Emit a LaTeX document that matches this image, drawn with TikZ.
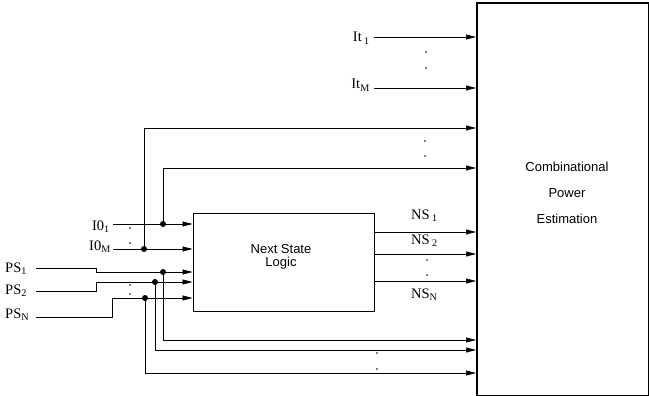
\documentclass[tikz,border=0pt]{standalone}
\usepackage{fontspec}
\setmainfont{Liberation Serif}
\newfontfamily\sansf{Liberation Sans}
\usetikzlibrary{arrows.meta}
\begin{document}
\begin{tikzpicture}[x=1pt,y=-1pt,
  wire/.style={line width=0.6pt},
  arr/.style={wire,-{Triangle[length=10pt,width=5pt]}},
  blk/.style={draw,line width=1.6pt,inner sep=0pt,anchor=north west},
  lbl/.style={font=\fontsize{14.5}{16}\selectfont,inner sep=0pt},
  sanslbl/.style={font=\sansf\fontsize{13}{13.5}\selectfont,align=center,inner sep=0pt},
  jdot/.style={circle,fill,inner sep=0pt,minimum size=6pt},
  sdot/.style={circle,fill,inner sep=0pt,minimum size=1.6pt}]
\useasboundingbox (0,0) rectangle (649,396);

% blocks
\node[blk,minimum width=172pt,minimum height=392pt] (cpe) at (476,2.5) {};
\node[sanslbl,font=\sansf\fontsize{13}{26}\selectfont] (cpetxt) at (567,193) {Combinational\\Power\\Estimation};
\node[blk,minimum width=181pt,minimum height=98pt] (nsl) at (192.5,212.5) {};
\node[sanslbl] (nsltxt) at (281,257) {Next State\\Logic};

% labels
\node[lbl,anchor=base east] (it1) at (370,42) {It\,\textsubscript{1}};
\node[lbl,anchor=base east] (itm) at (370,89) {It\textsubscript{M}};
\node[lbl,anchor=base east] (i01) at (110,230) {I0\textsubscript{1}};
\node[lbl,anchor=base east] (i0m) at (111,250) {I0\textsubscript{M}};
\node[lbl,anchor=base west] (ps1) at (5,272) {PS\textsubscript{1}};
\node[lbl,anchor=base west] (ps2) at (5,294) {PS\textsubscript{2}};
\node[lbl,anchor=base west] (psn) at (5,318) {PS\textsubscript{N}};
\node[lbl,anchor=base west] (ns1) at (411,219) {NS\,\textsubscript{1}};
\node[lbl,anchor=base west] (ns2) at (411,244) {NS\,\textsubscript{2}};
\node[lbl,anchor=base west] (nsn) at (411,298) {NS\textsubscript{N}};

% wire start points and junctions
\coordinate (it1s) at (374,37);
\coordinate (itms) at (374,88);
\coordinate (i01s) at (113,224);
\coordinate (i0ms) at (113,249);
\coordinate (ps1s) at (36,268);
\coordinate (ps2s) at (36,291);
\coordinate (psns) at (36,317);
\coordinate (ja) at (163,224);
\coordinate (jb) at (144,249);
\coordinate (jc) at (163,272);
\coordinate (jd) at (155,282);
\coordinate (je) at (145,298);

% top inputs
\draw[arr] (it1s) -- (it1s -| cpe.west);
\draw[arr] (itms) -- (itms -| cpe.west);

% I0 inputs
\draw[arr] (i01s) -- (i01s -| nsl.west);
\draw[arr] (i0ms) -- (i0ms -| nsl.west);
\draw[arr] (ja) |- (cpe.west |- 0,168);
\draw[arr] (jb) |- (cpe.west |- 0,128);

% PS inputs
\draw[arr] (ps1s) -- (96,268) -- (96,272) -- (nsl.west |- jc);
\draw[arr] (ps2s) -- (96,291) -- (96,282) -- (nsl.west |- jd);
\draw[arr] (psns) -- (112,317) -- (112,298) -- (nsl.west |- je);
\draw[arr] (jc) |- (cpe.west |- 0,340);
\draw[arr] (jd) |- (cpe.west |- 0,350);
\draw[arr] (je) |- (cpe.west |- 0,373);

% NS outputs
\draw[arr] (nsl.east |- 0,232) -- (cpe.west |- 0,232);
\draw[arr] (nsl.east |- 0,254) -- (cpe.west |- 0,254);
\draw[arr] (nsl.east |- 0,281) -- (cpe.west |- 0,281);

% junction dots
\foreach \j in {ja,jb,jc,jd,je} \node[jdot] at (\j) {};

% ellipsis dots
\foreach \p in {(426,52),(426,68),(425,141),(425,156),(130,228),(130,243),
  (130,285),(130,294),(427,260),(427,275),(377,353),(377,369)}
  \node[sdot] at \p {};
\end{tikzpicture}
\end{document}
